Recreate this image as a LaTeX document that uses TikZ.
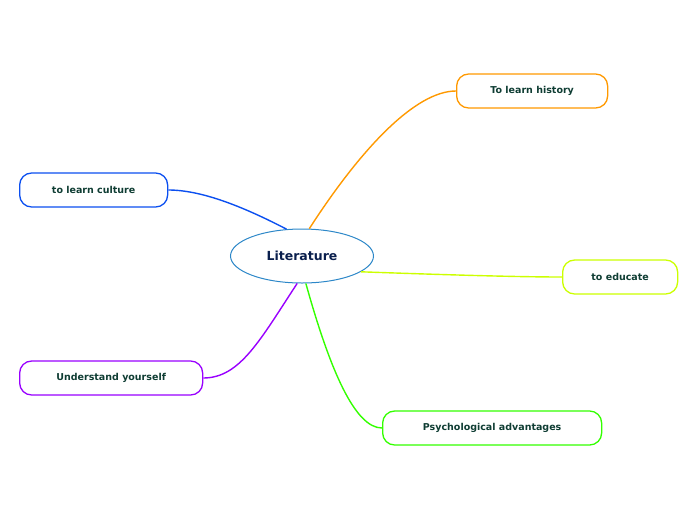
\documentclass[tikz,border=0pt]{standalone}
\usepackage{fontspec}
\setmainfont{DejaVu Sans}
\usetikzlibrary{shapes.geometric}
\definecolor{txt}{HTML}{0F3D33}
\definecolor{cOr}{HTML}{FF9900}
\definecolor{cBl}{HTML}{0B4FF0}
\definecolor{cYe}{HTML}{CCFF00}
\definecolor{cPu}{HTML}{9900FF}
\definecolor{cGr}{HTML}{33FF00}
\definecolor{cCe}{HTML}{2C87C8}
\definecolor{cTx}{HTML}{0A1F4D}
\begin{document}
\begin{tikzpicture}[x=1pt,y=-1pt,
  topic/.style={draw=#1,line width=1.3pt,rounded corners=12pt,fill=white,minimum height=34pt,font=\bfseries\fontsize{9.5}{11}\selectfont,text=txt,anchor=west,inner xsep=0pt},
  link/.style={draw=#1,line width=1.4pt}]
\useasboundingbox (0,0) rectangle (696,520);
\node[draw=cCe,line width=1pt,ellipse,minimum width=143pt,minimum height=54pt,inner sep=0pt,font=\bfseries\fontsize{12.5}{14}\selectfont,text=cTx] (lit) at (302,256) {Literature};
\node[topic=cOr,minimum width=151pt] (hist) at (456,91) {To learn history};
\node[topic=cBl,minimum width=148pt] (cult) at (19,190) {to learn culture};
\node[topic=cYe,minimum width=115pt] (edu) at (562,277) {to educate};
\node[topic=cPu,minimum width=183pt] (self) at (19,378) {Understand yourself};
\node[topic=cGr,minimum width=219pt] (psy) at (382,428) {Psychological advantages};
\draw[link=cOr] (lit.75) .. controls (360,150) and (415,91) .. (hist.west);
\draw[link=cBl] (lit.120) .. controls (240,205) and (200,190) .. (cult.east);
\draw[link=cYe] (lit.-15) .. controls (450,275) and (520,277) .. (edu.west);
\draw[link=cPu] (lit.-100) .. controls (260,340) and (240,378) .. (self.east);
\draw[link=cGr] (lit.-82) .. controls (330,370) and (355,428) .. (psy.west);
\end{tikzpicture}
\end{document}
